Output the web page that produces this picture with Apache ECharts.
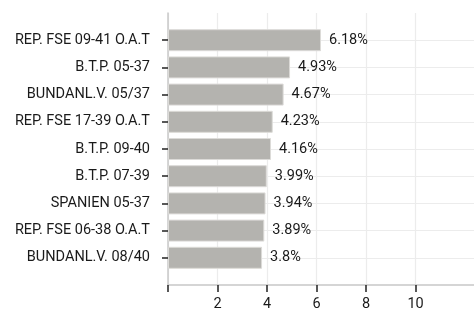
<!DOCTYPE html>
<html>
<head>
<meta charset="utf-8">
<script src="https://cdn.jsdelivr.net/npm/echarts@6/dist/echarts.min.js"></script>
<style>
html,body{margin:0;padding:0;background:#fff;}
#chart{width:474px;height:316px;}
</style>
</head>
<body>
<div id="chart"></div>
<script>
var categories = ['REP. FSE 09-41 O.A.T', 'B.T.P. 05-37', 'BUNDANL.V. 05/37', 'REP. FSE 17-39 O.A.T',
	'B.T.P. 09-40', 'B.T.P. 07-39', 'SPANIEN 05-37', 'REP. FSE 06-38 O.A.T', 'BUNDANL.V. 08/40'];
var weights = [6.18, 4.93, 4.67, 4.23, 4.16, 3.99, 3.94, 3.89, 3.8];
var xTicks = [0, 2, 4, 6, 8, 10];
var xLabels = [2, 4, 6, 8, 10];

// one empty slot above and below the bars, axis drawn without boundary gap
var axisCats = [''].concat(categories).concat(['']);
var barData = [null].concat(weights).concat([null]);

function isInner(idx) {
	return idx > 0 && idx < axisCats.length - 1;
}

var myChart = echarts.init(document.getElementById('chart'));
var option = {
	animation: false,
	textStyle: { fontFamily: 'Roboto' },
	grid: { left: 168, right: 0, top: 13, bottom: 31 },
	xAxis: {
		type: 'value',
		min: 0,
		max: 12.36,
		interval: 2,
		axisLine: { show: true, onZero: false, lineStyle: { color: '#c8c8c8', width: 1.5 } },
		axisTick: { show: true, length: 7, lineStyle: { color: '#222', width: 1.5 }, customValues: xTicks },
		axisLabel: { color: '#1a1a1a', fontSize: 14.5, margin: 12, customValues: xLabels },
		splitLine: { show: true, lineStyle: { color: '#ececec', width: 1.2 } }
	},
	yAxis: {
		type: 'category',
		inverse: true,
		boundaryGap: false,
		data: axisCats,
		axisLine: { show: true, onZero: false, lineStyle: { color: '#c8c8c8', width: 1.5 } },
		axisTick: { show: true, length: 6, lineStyle: { color: '#222', width: 1.5 },
			interval: function (idx) { return isInner(idx); } },
		axisLabel: { color: '#1a1a1a', fontSize: 14.5, margin: 18, interval: 0 },
		splitLine: { show: true, lineStyle: { color: '#ececec', width: 1.2 },
			interval: function (idx) { return isInner(idx); } }
	},
	series: [{
		type: 'bar',
		data: barData,
		barWidth: 22,
		itemStyle: { color: '#b4b3af', borderColor: '#dcdbd8', borderWidth: 1 },
		label: {
			show: true, position: 'right', distance: 8, color: '#1a1a1a', fontSize: 14.5,
			formatter: '{c}%'
		}
	}]
};
myChart.setOption(option);
</script>
</body>
</html>
